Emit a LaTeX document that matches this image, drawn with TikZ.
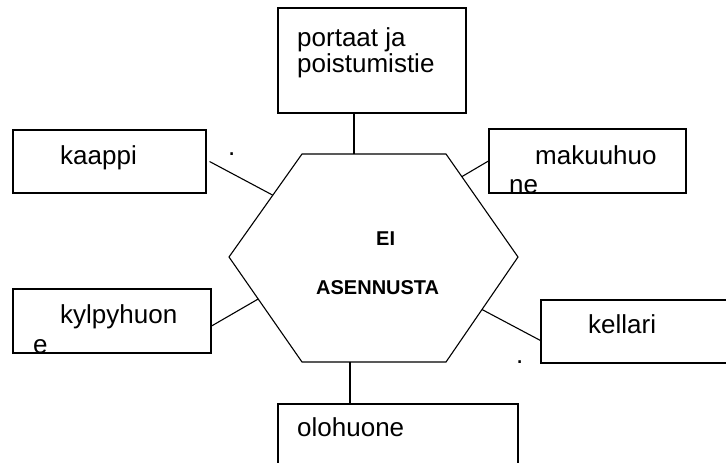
\documentclass[tikz,border=0pt]{standalone}
\usepackage{fontspec}
\setmainfont{Liberation Sans}
\usetikzlibrary{calc}
\tikzset{
  room/.style={draw, line width=1.1pt, inner sep=0pt},
  roomtext/.style={anchor=base west, inner sep=0pt, font=\fontsize{26}{27}\selectfont},
  hubtext/.style={anchor=base west, inner sep=0pt, font=\fontsize{20}{21}\selectfont\bfseries},
  link/.style={line width=1.1pt}
}
\begin{document}
\begin{tikzpicture}[x=1pt,y=-1pt]
  \useasboundingbox (0,0) rectangle (726,463);
  \clip (0,0) rectangle (726,463);
  % hexagon
  \coordinate (hA) at (302,154);
  \coordinate (hB) at (446,154);
  \coordinate (hC) at (518,257);
  \coordinate (hD) at (446,362);
  \coordinate (hE) at (302,362);
  \coordinate (hF) at (229,257);
  \draw[link] (hA) -- (hB) -- (hC) -- (hD) -- (hE) -- (hF) -- cycle;
  \node[hubtext] (ei) at (376,245) {EI};
  \node[hubtext] (asennusta) at (316,294) {ASENNUSTA};
  % rooms
  \node[room, minimum width=188pt, minimum height=105pt] (portaat) at (372,60.5) {};
  \node[room, minimum width=193pt, minimum height=63pt] (kaappi) at (109.5,161.5) {};
  \node[room, minimum width=197pt, minimum height=64pt] (makuuhuone) at (587.5,161) {};
  \node[room, minimum width=198pt, minimum height=64pt] (kylpyhuone) at (112,321) {};
  \node[room, minimum width=197pt, minimum height=63pt] (kellari) at (639.5,331.5) {};
  \node[room, minimum width=240pt, minimum height=64pt] (olohuone) at (398,436) {};
  % texts
  \node[roomtext] (portaatA) at (297,46.5) {portaat ja};
  \node[roomtext] (portaatB) at (297,72.5) {poistumistie};
  \node[roomtext] (kaappiT) at (60,164) {kaappi};
  \node[roomtext] (makuuA) at (535,164) {makuuhuo};
  \node[roomtext] (makuuB) at (509,193) {ne};
  \node[roomtext] (kylpyA) at (60,323.5) {kylpyhuon};
  \node[roomtext] (kylpyB) at (33,353) {e};
  \node[roomtext] (kellariT) at (588,333.5) {kellari};
  \node[roomtext] (olohuoneT) at (297,436.5) {olohuone};
  \node[roomtext] (dotA) at (228,155.5) {.};
  \node[roomtext] (dotB) at (516,363.5) {.};
  % links
  \coordinate (pTop) at (354,154);
  \coordinate (pBot) at (350,362);
  \draw[link] (pTop |- portaat.south) -- (pTop);
  \draw[link] ([xshift=3pt]kaappi.east) -- ($(hF)!0.6!(hA)$);
  \draw[link] ($(hB)!0.22!(hC)$) -- (makuuhuone.west);
  \draw[link] ([yshift=-5pt]kylpyhuone.east) -- ($(hF)!0.4!(hE)$);
  \draw[link] ($(hC)!0.5!(hD)$) -- ([yshift=-9pt]kellari.west);
  \draw[link] (pBot) -- (pBot |- olohuone.north);
\end{tikzpicture}
\end{document}
